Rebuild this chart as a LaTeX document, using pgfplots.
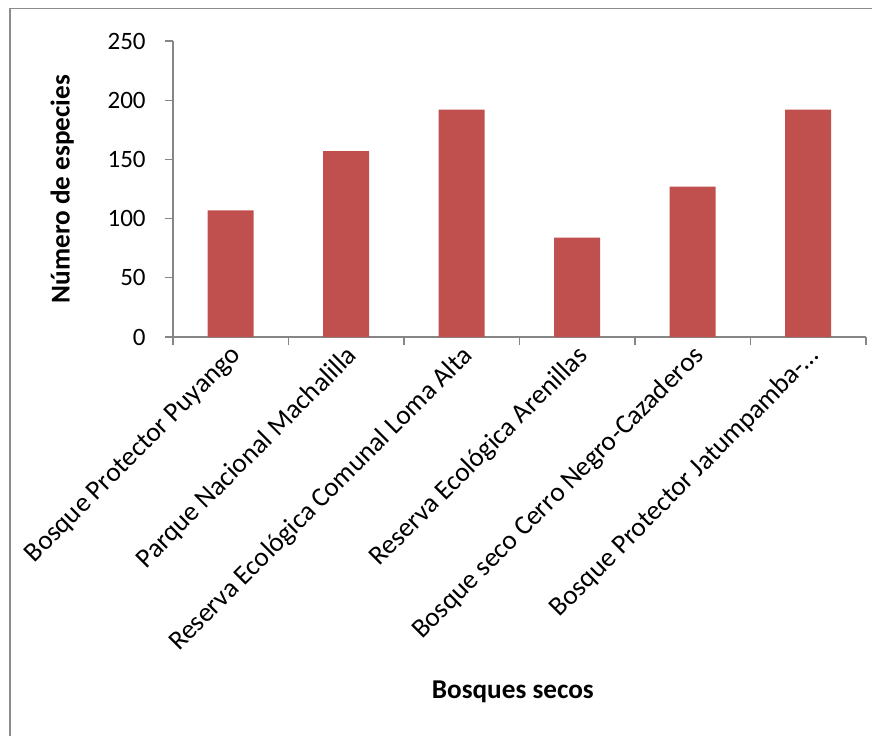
\documentclass[border=0pt]{standalone}
\usepackage{pgfplots}
\pgfplotsset{compat=1.18}
\usepackage{fontspec}
\setmainfont{Carlito}
\definecolor{barred}{HTML}{C0504D}
\definecolor{axgray}{HTML}{868686}
\definecolor{framegray}{HTML}{8C8C8C}
\begin{document}
\begin{tikzpicture}
\useasboundingbox (0,0) rectangle (654pt,552pt);
\draw[color=framegray, line width=1.4pt] (7.2pt,-5pt) -- (7.2pt,545.6pt) -- (660pt,545.6pt);
\begin{axis}[
  at={(129.75pt,299.25pt)}, anchor=south west,
  scale only axis, width=519.75pt, height=222pt,
  xmin=-0.5, xmax=5.5, ymin=0, ymax=250,
  axis x line=bottom, axis y line=left,
  axis line style={axgray, line width=1pt, -},
  every tick/.style={axgray, line width=1pt},
  tick align=outside,
  ytick={0,50,...,250},
  major tick length=6pt, minor tick length=6pt,
  xtick={0,...,5},
  major x tick style={draw=none},
  minor xtick={-0.5,0.5,...,5.5},
  xticklabels={Bosque Protector Puyango, Parque Nacional Machalilla, Reserva Ecológica Comunal Loma Alta, Reserva Ecológica Arenillas, Bosque seco Cerro Negro-Cazaderos, Bosque Protector Jatumpamba-…},
  xticklabel style={rotate=45, anchor=north east, font=\fontsize{20.4}{24}\selectfont, inner sep=0pt, yshift=1.5pt, xshift=0pt},
  yticklabel style={font=\fontsize{18.75}{22}\selectfont, xshift=-11pt},
  /pgf/number format/assume math mode=true,
  ylabel={Número de especies},
  ylabel style={at={(axis description cs:-0.16,0.5)}, anchor=center, font=\bfseries\fontsize{20.4}{24}\selectfont},
  xlabel={Bosques secos},
  xlabel style={at={(axis description cs:0.5,0)}, anchor=center, yshift=-266pt, xshift=-5pt, font=\bfseries\fontsize{20.4}{24}\selectfont},
  clip=false,
]
\addplot[ybar, bar width=34.5pt, fill=barred, draw=none] coordinates {
  (0,107) (1,157) (2,192) (3,84) (4,127) (5,192)
};
\end{axis}
\end{tikzpicture}
\end{document}
